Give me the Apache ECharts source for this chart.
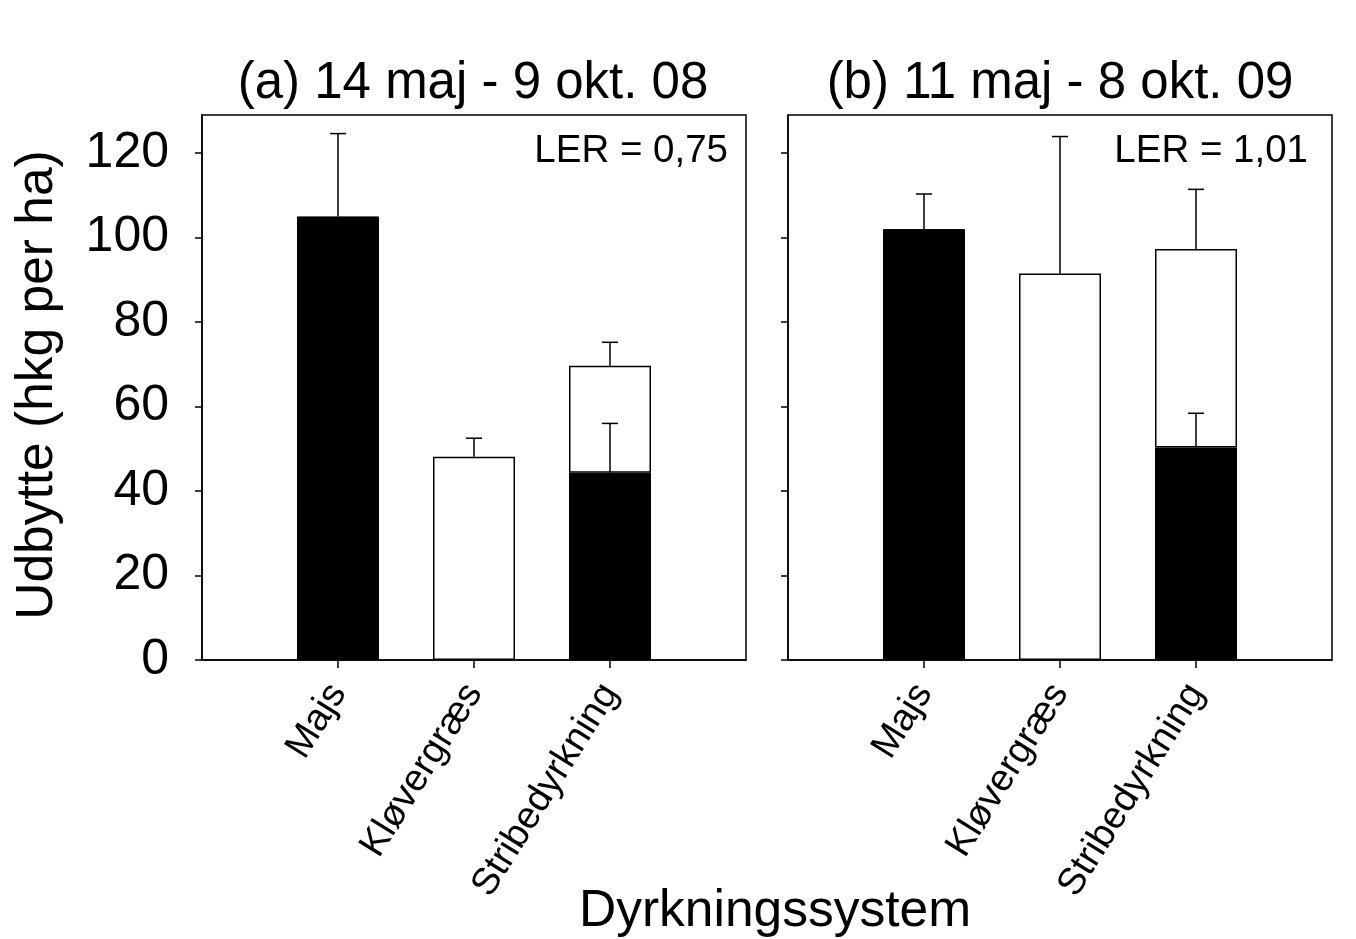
<!DOCTYPE html>
<html>
<head>
<meta charset="utf-8">
<script src="https://cdn.jsdelivr.net/npm/echarts@6/dist/echarts.min.js"></script>
<style>
html,body{margin:0;padding:0;background:#fff;}
#chart{width:1356px;height:939px;}
</style>
</head>
<body>
<div id="chart"></div>
<script>
// ---- data ----
const categories = ['', 'Majs', 'Kløvergræs', 'Stribedyrkning', ''];
const yTicks = [0, 20, 40, 60, 80, 100, 120];
const panelTitles = ['(a) 14 maj - 9 okt. 08', '(b) 11 maj - 8 okt. 09'];
const lerLabels = ['LER = 0,75', 'LER = 1,01'];
// panel (a) 2008
const maizeA = ['-', 105.0, '-', 44.3, '-'];      // black part (majs)
const maizeErrA = ['-', 19.6, '-', 11.7, '-'];
const totalA = ['-', '-', 48.1, 69.65, '-'];        // top of white part (kløvergræs / total)
const totalErrA = ['-', '-', 4.4, 5.55, '-'];
// panel (b) 2009
const maizeB = ['-', 102.0, '-', 50.3, '-'];
const maizeErrB = ['-', 8.3, '-', 8.1, '-'];
const totalB = ['-', '-', 91.5, 97.3, '-'];
const totalErrB = ['-', '-', 32.4, 14.1, '-'];

const FONT = "'Liberation Sans', Arial, sans-serif";
const chart = echarts.init(document.getElementById('chart'));

function whitePart(maize, total) {
  return total.map((t, i) => {
    if (t === '-') return '-';
    const m = maize[i] === '-' ? 0 : maize[i];
    return +(t - m).toFixed(3);
  });
}
function errData(base, err) {
  const out = [];
  base.forEach((v, i) => { if (v !== '-' && err[i] !== '-') out.push([i, v, v + err[i]]); });
  return out;
}
function renderErr(params, api) {
  const x = api.value(0);
  const lo = api.coord([x, api.value(1)]);
  const hi = api.coord([x, api.value(2)]);
  const st = { stroke: '#000', lineWidth: 1.5 };
  return { type: 'group', children: [
    { type: 'line', shape: { x1: lo[0], y1: lo[1], x2: hi[0], y2: hi[1] }, style: st },
    { type: 'line', shape: { x1: hi[0] - 8, y1: hi[1], x2: hi[0] + 8, y2: hi[1] }, style: st }
  ]};
}

const gridLefts = [202, 788];
const grids = gridLefts.map(l => ({ left: l, top: 115, width: 544, height: 545, show: true,
  borderColor: '#000', borderWidth: 1.5, backgroundColor: 'transparent' }));

const xAxes = [0, 1].map(g => ({
  type: 'category', gridIndex: g, data: categories, boundaryGap: false,
  axisLine: { show: true, lineStyle: { color: '#000', width: 1.5 } },
  axisTick: { show: true, length: 8, lineStyle: { color: '#000', width: 1.5 },
    interval: (idx) => idx >= 1 && idx <= 3 },
  axisLabel: { show: true, interval: 0, rotate: 58, fontSize: 38, fontFamily: FONT,
    color: '#000', margin: 27 },
  splitLine: { show: false }
}));

const yAxes = [0, 1].map(g => ({
  type: 'value', gridIndex: g, min: 0, max: 129, interval: 20,
  axisLine: { show: true, lineStyle: { color: '#000', width: 1.5 } },
  axisTick: { show: true, length: 7, customValues: yTicks, lineStyle: { color: '#000', width: 1.5 } },
  axisLabel: { show: g === 0, customValues: yTicks, fontSize: 50, fontFamily: FONT,
    color: '#000', margin: 33 },
  splitLine: { show: false }
}));

const panels = [
  { maize: maizeA, maizeErr: maizeErrA, total: totalA, totalErr: totalErrA },
  { maize: maizeB, maizeErr: maizeErrB, total: totalB, totalErr: totalErrB }
];
const series = [];
panels.forEach((p, g) => {
  series.push({ type: 'bar', xAxisIndex: g, yAxisIndex: g, stack: 's' + g, barWidth: 82,
    data: p.maize, itemStyle: { color: '#000', borderColor: '#000', borderWidth: 1 }, silent: true });
  series.push({ type: 'bar', xAxisIndex: g, yAxisIndex: g, stack: 's' + g, barWidth: 82,
    data: whitePart(p.maize, p.total),
    itemStyle: { color: '#fff', borderColor: '#000', borderWidth: 1.5 }, silent: true });
  series.push({ type: 'custom', xAxisIndex: g, yAxisIndex: g, renderItem: renderErr, z: 5,
    data: errData(p.maize, p.maizeErr), silent: true });
  series.push({ type: 'custom', xAxisIndex: g, yAxisIndex: g, renderItem: renderErr, z: 5,
    data: errData(p.total, p.totalErr), silent: true });
});

const txt = (x, y, text, size, align, rot) => ({
  type: 'text', x: x, y: y, rotation: rot || 0, z: 10,
  style: { text: text, fontSize: size, fontFamily: FONT, fill: '#000',
    align: align || 'center', verticalAlign: 'middle' }
});

chart.setOption({
  animation: false,
  backgroundColor: '#fff',
  grid: grids,
  xAxis: xAxes,
  yAxis: yAxes,
  series: series,
  graphic: [
    txt(473, 84, panelTitles[0], 51),
    txt(1060, 84, panelTitles[1], 51),
    txt(728, 151, lerLabels[0], 38.5, 'right'),
    txt(1308, 151, lerLabels[1], 38.5, 'right'),
    txt(38, 385, 'Udbytte (hkg per ha)', 51.5, 'center', Math.PI / 2),
    txt(775, 912, 'Dyrkningssystem', 51.5)
  ]
});
</script>
</body>
</html>
